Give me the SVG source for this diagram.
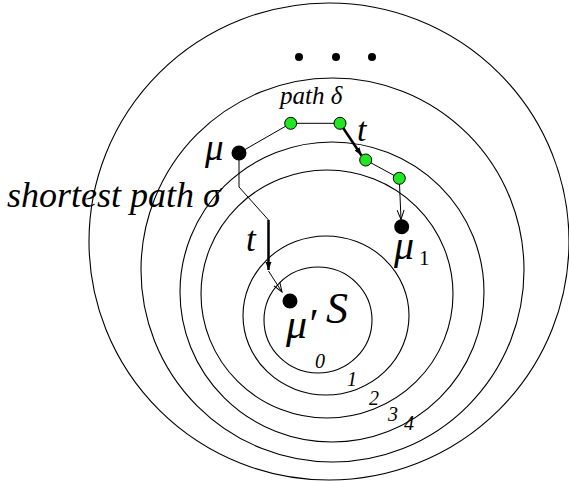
<svg xmlns="http://www.w3.org/2000/svg" width="569" height="482" viewBox="0 0 569 482">
<defs>
<marker id="vhead" markerWidth="12" markerHeight="10" refX="10" refY="4" orient="auto" markerUnits="userSpaceOnUse">
<path d="M0.5,0.5 L10,4 L0.5,7.5" fill="none" stroke="#000" stroke-width="1"/>
</marker>
<marker id="thead" markerWidth="10" markerHeight="8" refX="8" refY="3" orient="auto" markerUnits="userSpaceOnUse">
<path d="M0,0 L8,3 L0,6 Z" fill="#000"/>
</marker>
</defs>
<style>
.ring{fill:none;stroke:#000;stroke-width:1.1}
.lbl{font-family:"Liberation Serif","Times New Roman",serif;font-style:italic;fill:#000}
.up{font-family:"Liberation Serif","Times New Roman",serif;fill:#000}
.conn{fill:none;stroke:#000;stroke-width:1}
.thick{fill:none;stroke:#000;stroke-width:2.5}
.green{fill:#22e622;stroke:#000;stroke-width:1}
.black{fill:#000}
</style>
<rect width="569" height="482" fill="#fff"/>
<g id="rings">
<ellipse class="ring" cx="329" cy="241.5" rx="240" ry="238.5"/>
<ellipse class="ring" cx="332.5" cy="270" rx="191.5" ry="192"/>
<ellipse class="ring" cx="332" cy="292" rx="152" ry="150"/>
<ellipse class="ring" cx="327" cy="294" rx="126" ry="124"/>
<ellipse class="ring" cx="326" cy="315.5" rx="83" ry="79.5"/>
<ellipse class="ring" cx="318" cy="320" rx="54" ry="53"/>
</g>
<g id="ring-labels">
<text class="lbl" x="315" y="368" font-size="20">0</text>
<text class="lbl" x="347" y="386" font-size="20">1</text>
<text class="lbl" x="369" y="405" font-size="20">2</text>
<text class="lbl" x="388" y="421" font-size="20">3</text>
<text class="lbl" x="404" y="430" font-size="20">4</text>
</g>
<g id="ellipsis">
<circle class="black" cx="299" cy="57" r="4"/>
<circle class="black" cx="336" cy="57" r="4"/>
<circle class="black" cx="372" cy="57" r="4"/>
</g>
<g id="connectors">
<polyline class="conn" points="239,153 290.7,123.3 340,123.3"/>
<line class="thick" x1="340" y1="123.3" x2="361.5" y2="155.5" marker-end="url(#thead)"/>
<line class="conn" x1="365.7" y1="160" x2="399.3" y2="178.3"/>
<line class="conn" x1="399.5" y1="184" x2="401" y2="219.5" marker-end="url(#vhead)"/>
<polyline class="conn" points="239,153 239,187 268.5,220"/>
<line class="thick" x1="268.5" y1="220" x2="268.5" y2="270" marker-end="url(#thead)"/>
<line class="conn" x1="268.5" y1="271" x2="282" y2="292" marker-end="url(#vhead)"/>
</g>
<g id="node-mu">
<circle class="black" cx="239" cy="153" r="7.5"/>
<text class="lbl" x="205" y="160" font-size="37">μ</text>
</g>
<g id="node-g1"><circle class="green" cx="290.7" cy="123.3" r="6"/></g>
<g id="node-g2"><circle class="green" cx="340" cy="123.3" r="6"/></g>
<g id="node-g3"><circle class="green" cx="365.7" cy="160" r="6"/></g>
<g id="node-g4"><circle class="green" cx="399.3" cy="178.3" r="6"/></g>
<g id="node-mu1">
<circle class="black" cx="401.7" cy="226.7" r="7.5"/>
<text class="lbl" x="394" y="259" font-size="40">μ</text>
<text class="up" x="419" y="265" font-size="21">1</text>
</g>
<g id="node-muprime">
<circle class="black" cx="290" cy="301" r="7.5"/>
<text class="lbl" x="286" y="338" font-size="42">μ′</text>
</g>
<g id="labels">
<text class="lbl" x="280" y="104" font-size="25">path δ</text>
<text class="lbl" x="357" y="141" font-size="34">t</text>
<text class="lbl" x="246" y="251" font-size="35">t</text>
<text class="lbl" x="7" y="207" font-size="36">shortest path σ</text>
<text class="lbl" x="326" y="323" font-size="44">S</text>
</g>
</svg>
